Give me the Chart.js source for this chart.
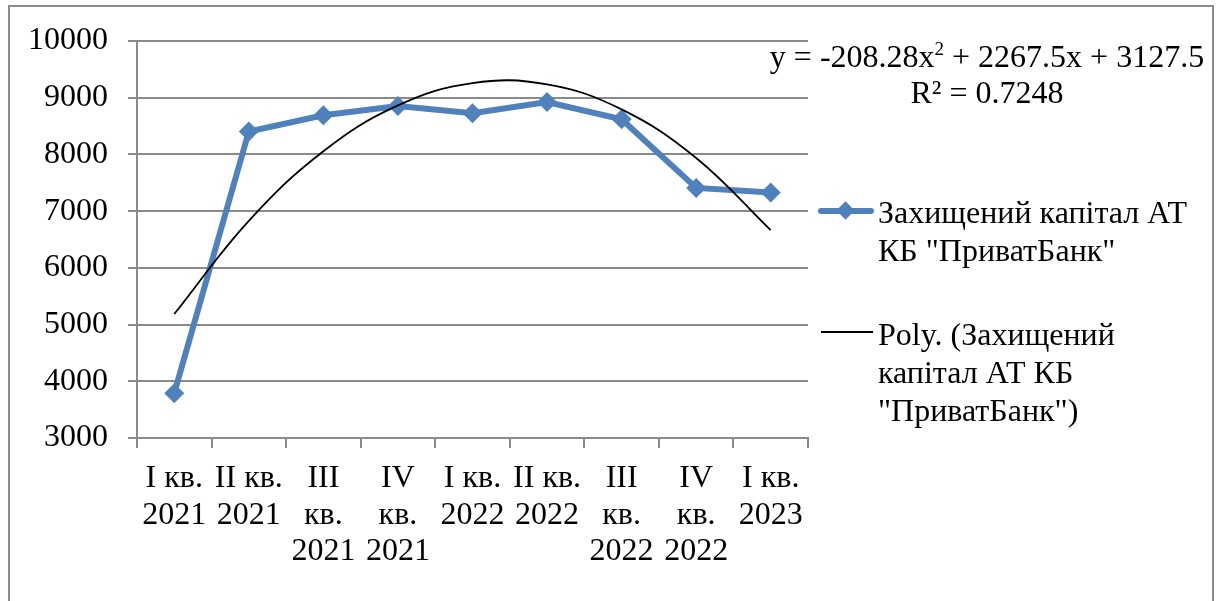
<!DOCTYPE html>
<html>
<head>
<meta charset="utf-8">
<script src="https://cdn.jsdelivr.net/npm/chart.js@4/dist/chart.umd.min.js"></script>
<style>
  html, body { margin: 0; padding: 0; background: #fff; overflow: hidden; }
  #wrap { position: relative; width: 1221px; height: 601px; }
  #chart { position: absolute; left: 0; top: 0; }
  .frame { position: absolute; left: 8px; top: 5px; width: 1206px; height: 620px; border: 2px solid #8c8c8c; box-sizing: border-box; }
  .txt { position: absolute; font-family: "Liberation Serif", "Times New Roman", serif; font-size: 32px; color: #000; line-height: 38px; white-space: nowrap; }
  .eq { text-align: center; width: 500px; left: 737px; }
  .eq sup { font-size: 19px; vertical-align: 12px; line-height: 0; }
  .sample { position: absolute; }
  .s-line { position: absolute; left: 0; width: 56px; height: 6px; top: -3px; background: #4f81bd; border-radius: 3px; }
  .s-dia { position: absolute; left: 21px; top: -7px; width: 13px; height: 13px; background: #4f81bd; transform: rotate(45deg); }
  .s-poly { position: absolute; left: 3px; width: 52px; height: 2px; top: -1px; background: #000; }
</style>
</head>
<body>
<div id="wrap">
  <canvas id="chart" width="1221" height="601"></canvas>
  <div class="frame"></div>
  <div class="txt eq" style="top:37px">y = -208.28x<sup>2</sup> + 2267.5x + 3127.5</div>
  <div class="txt eq" style="top:73px">R² = 0.7248</div>
  <div class="sample" style="left:818px; top:211px"><div class="s-line"></div><div class="s-dia"></div></div>
  <div class="txt" style="left:878px; top:193px">Захищений капітал АТ<br>КБ "ПриватБанк"</div>
  <div class="sample" style="left:818px; top:332px"><div class="s-poly"></div></div>
  <div class="txt" style="left:878px; top:315px">Poly. (Захищений<br>капітал АТ КБ<br>"ПриватБанк")</div>
</div>
<script>
// Quarter labels (multi-line, as in the source)
const quarters = [
    ['I кв.', '2021'],
    ['II кв.', '2021'],
    ['III', 'кв.', '2021'],
    ['IV', 'кв.', '2021'],
    ['I кв.', '2022'],
    ['II кв.', '2022'],
    ['III', 'кв.', '2022'],
    ['IV', 'кв.', '2022'],
    ['I кв.', '2023'],
];

// Protected capital values
const capital = [3790, 8405, 8690, 8855, 8725, 8925, 8620, 7410, 7330];

// Polynomial trend line values read at each quarter
const trend = [5187, 6829, 8056, 8865, 9258, 9235, 8794, 7938, 6664];

const yTicks = { min: 3000, max: 10000, step: 1000 };

const FONT = { family: '"Liberation Serif", "Times New Roman", serif', size: 32, lineHeight: 1.15 };
const GRID_COLOR = '#8a8a8a';
const SERIES_COLOR = '#4f81bd';

new Chart(document.getElementById('chart'), {
    type: 'line',
    data: {
        labels: quarters,
        datasets: [
            {
                label: 'Захищений капітал АТ КБ "ПриватБанк"',
                data: capital,
                borderColor: SERIES_COLOR,
                backgroundColor: SERIES_COLOR,
                borderWidth: 6,
                pointStyle: 'rectRot',
                pointRadius: 10,
                pointBorderWidth: 0,
                tension: 0,
                order: 1,
            },
            {
                label: 'Poly. (Захищений капітал АТ КБ "ПриватБанк")',
                data: trend,
                borderColor: '#000',
                borderWidth: 1.8,
                pointRadius: 0,
                tension: 0.4,
                order: 0,
            },
        ],
    },
    options: {
        responsive: false,
        animation: false,
        events: [],
        layout: { padding: { left: 0, top: 41, right: 413, bottom: 0 } },
        plugins: {
            legend: { display: false },
            tooltip: { enabled: false },
        },
        scales: {
            x: {
                offset: true,
                grid: {
                    offset: true,
                    drawOnChartArea: false,
                    drawTicks: true,
                    tickLength: 10,
                    color: GRID_COLOR,
                    lineWidth: 2,
                },
                border: { color: GRID_COLOR, width: 2 },
                ticks: {
                    font: FONT,
                    color: '#000',
                    padding: 12,
                    maxRotation: 0,
                    autoSkip: false,
                },
                afterFit: (axis) => { axis.height = 163; },
            },
            y: {
                min: yTicks.min,
                max: yTicks.max,
                grid: {
                    color: GRID_COLOR,
                    lineWidth: 2,
                    tickLength: 9,
                },
                border: { color: GRID_COLOR, width: 2 },
                ticks: {
                    stepSize: yTicks.step,
                    font: FONT,
                    color: '#000',
                    padding: 20,
                    callback: (val) => String(val),
                },
                afterFit: (axis) => { axis.width = 137; },
            },
        },
    },
});
</script>
</body>
</html>
